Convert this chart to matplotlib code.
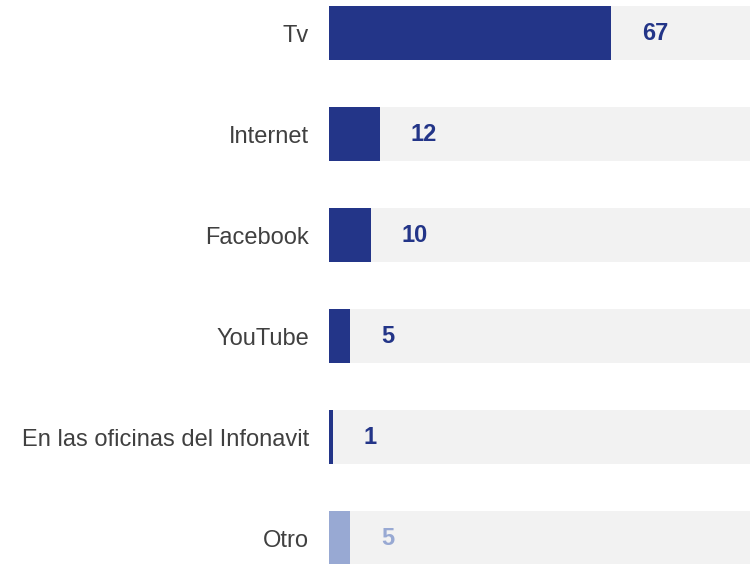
import matplotlib.pyplot as plt

plt.rcParams['font.family'] = ['Liberation Sans', 'DejaVu Sans']

categories = ['Tv', 'Internet', 'Facebook', 'YouTube',
              'En las oficinas del Infonavit', 'Otro']
values = [67, 12, 10, 5, 1, 5]
colors = ['#233588', '#233588', '#233588', '#233588', '#233588', '#98a9d3']

fig = plt.figure(figsize=(7.5, 5.64), dpi=100)
ax = fig.add_axes([329 / 750, 0, 1 - 329 / 750, 1])

y = list(range(len(categories)))
ax.barh(y, [100] * len(y), height=0.54, color='#f2f2f2')
ax.barh(y, values, height=0.54, color=colors)

for yi, v, c in zip(y, values, colors):
    ax.text(v + 7.3, yi, str(v), ha='left', va='center',
            fontsize=17, fontweight='bold', color=c)

ax.set_xlim(0, 100)
ax.set_ylim(5.257, -0.327)
ax.set_yticks(y)
ax.set_yticklabels(categories, fontsize=17, color='#404040')
ax.tick_params(axis='y', length=0, pad=14.5)
ax.set_xticks([])
for s in ax.spines.values():
    s.set_visible(False)

fig.savefig('out.png', dpi=100)
